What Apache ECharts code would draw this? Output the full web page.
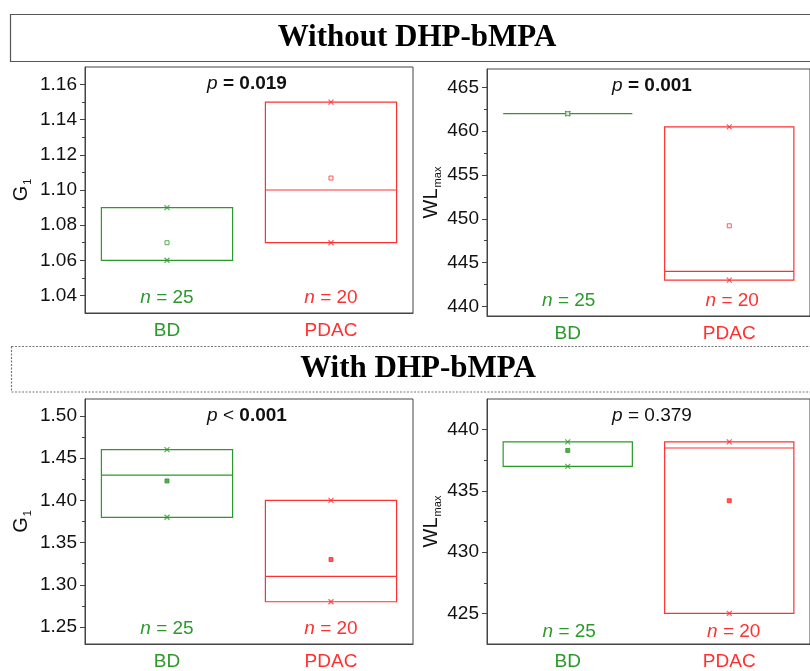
<!DOCTYPE html>
<html>
<head>
<meta charset="utf-8">
<script src="https://cdn.jsdelivr.net/npm/echarts@6/dist/echarts.min.js"></script>
<style>
  html, body { margin: 0; padding: 0; background: #fff; }
  #main { width: 810px; height: 671px; }
</style>
</head>
<body>
<div id="main"></div>
<script>
// groups and their colours
const groups = ['BD', 'PDAC']
const groupColors = ['#2b9a2b', '#ff3030']

// box rows: [min, Q1, median, Q3, max] (no whiskers in the figure, so min=Q1 and max=Q3)
const g1Without = [[1.06, 1.06, 1.06, 1.09, 1.09], [1.07, 1.07, 1.10, 1.15, 1.15]]
const g1WithoutMean = [1.07, 1.1068]
const wlWithout = [[462, 462, 462, 462, 462], [443, 443, 444, 460.5, 460.5]]
const wlWithoutMean = [462, 449.2]
const g1With = [[1.38, 1.38, 1.43, 1.46, 1.46], [1.28, 1.28, 1.31, 1.40, 1.40]]
const g1WithMean = [1.423, 1.33]
const wlWith = [[437, 437, 439, 439, 439], [425, 425, 438.5, 439, 439]]
const wlWithMean = [438.3, 434.2]

// tick labels
const g1WithoutTicks = [1.04, 1.06, 1.08, 1.10, 1.12, 1.14, 1.16]
const wlWithoutTicks = [440, 445, 450, 455, 460, 465]
const g1WithTicks = [1.25, 1.30, 1.35, 1.40, 1.45, 1.50]
const wlWithTicks = [425, 430, 435, 440]

const pLabels = [
  { op: '=', val: '0.019', bold: true },
  { op: '=', val: '0.001', bold: true },
  { op: '<', val: '0.001', bold: true },
  { op: '=', val: '0.379', bold: false }
]
const nLabels = ['25', '20']

const font = 'Liberation Sans, Arial, sans-serif'
const axisColor = '#444'
const textColor = '#111'

// panel geometry
const panels = [
  { left: 85, top: 67, width: 328, height: 246, min: 1.03, max: 1.17, ticks: g1WithoutTicks, dec: 2, name: 'G', sub: '1', gap: 52, box: g1Without, mean: g1WithoutMean, hollow: true },
  { left: 487, top: 69, width: 327, height: 247, min: 438.9, max: 467.1, ticks: wlWithoutTicks, dec: 0, name: 'WL', sub: 'max', gap: 42, box: wlWithout, mean: wlWithoutMean, hollow: true },
  { left: 85, top: 399, width: 328, height: 245, min: 1.23, max: 1.52, ticks: g1WithTicks, dec: 2, name: 'G', sub: '1', gap: 52, box: g1With, mean: g1WithMean, hollow: false },
  { left: 487, top: 399, width: 329, height: 248, min: 422.5, max: 442.5, ticks: wlWithTicks, dec: 0, name: 'WL', sub: 'max', gap: 42, box: wlWith, mean: wlWithMean, hollow: false }
]

function minorTicks(ticks, min, max) {
  const step = ticks[1] - ticks[0]
  const out = []
  for (let i = -1; i < ticks.length; i++) {
    const v = ticks[0] + step * (i + 0.5)
    if (v > min && v < max) out.push(v)
  }
  return out
}

const grid = [], xAxis = [], yAxis = [], series = [], graphic = []

panels.forEach((p, k) => {
  grid.push({ left: p.left, top: p.top, width: p.width, height: p.height, show: true, borderColor: axisColor, borderWidth: 1, containLabel: false })
  xAxis.push({
    type: 'category', gridIndex: k, data: groups, boundaryGap: true,
    axisLine: { lineStyle: { color: axisColor, width: 1 } },
    axisTick: { alignWithLabel: true, length: 5, lineStyle: { color: axisColor } },
    axisLabel: {
      margin: 8,
      formatter: v => '{' + (v === groups[0] ? 'g' : 'r') + '|' + v + '}',
      rich: {
        g: { color: groupColors[0], fontSize: 19, fontFamily: font },
        r: { color: groupColors[1], fontSize: 19, fontFamily: font }
      }
    },
    splitLine: { show: false }
  })
  yAxis.push({
    type: 'value', gridIndex: k, position: 'left', min: p.min, max: p.max,
    name: '{a|' + p.name + '}{s|' + p.sub + '}',
    nameLocation: 'middle', nameGap: p.gap, nameRotate: 90,
    nameTextStyle: {
      rich: {
        a: { fontSize: 20, fontFamily: font, color: textColor, lineHeight: 24, verticalAlign: 'middle' },
        s: { fontSize: 11, fontFamily: font, color: textColor, lineHeight: 24, verticalAlign: 'bottom', padding: [0, 0, 0, 1] }
      }
    },
    axisLine: { show: true, lineStyle: { color: axisColor, width: 1 } },
    axisTick: { show: true, length: 5, customValues: p.ticks, lineStyle: { color: axisColor } },
    axisLabel: { customValues: p.ticks, margin: 8, fontSize: 19, fontFamily: font, color: textColor, formatter: v => v.toFixed(p.dec) },
    splitLine: { show: false }
  })
  // minor ticks
  yAxis.push({
    type: 'value', gridIndex: k, position: 'left', min: p.min, max: p.max,
    axisLine: { show: false },
    axisTick: { show: true, length: 3, customValues: minorTicks(p.ticks, p.min, p.max), lineStyle: { color: axisColor } },
    axisLabel: { show: false },
    splitLine: { show: false }
  })

  series.push({
    type: 'boxplot', xAxisIndex: k, yAxisIndex: 2 * k,
    boxWidth: ['80%', '80%'],
    data: p.box.map((b, i) => ({ value: b, itemStyle: { color: 'transparent', borderColor: groupColors[i], borderWidth: 1.2 } })),
    silent: true
  })
  series.push({
    type: 'scatter', xAxisIndex: k, yAxisIndex: 2 * k,
    symbol: 'path://M0,0L10,10M10,0L0,10', symbolSize: 5,
    data: p.box.flatMap((b, i) => [
      { value: [i, b[0]], itemStyle: { color: 'none', borderColor: groupColors[i], borderWidth: 1.2 } },
      { value: [i, b[4]], itemStyle: { color: 'none', borderColor: groupColors[i], borderWidth: 1.2 } }
    ]),
    silent: true
  })
  series.push({
    type: 'scatter', xAxisIndex: k, yAxisIndex: 2 * k,
    symbol: 'rect', symbolSize: 4,
    data: p.mean.map((m, i) => ({ value: [i, m], itemStyle: { color: p.hollow ? '#fff' : groupColors[i], borderColor: groupColors[i], borderWidth: 1 } })),
    silent: true,
    z: 3
  })

  // p-value text
  const pl = pLabels[k]
  graphic.push({
    type: 'text',
    x: p.left + (k % 2 === 0 ? 162 : 165), y: p.top + 17,
    style: {
      text: '{i|p}{o| ' + pl.op + ' }{v|' + pl.val + '}',
      align: 'center', verticalAlign: 'middle',
      rich: {
        i: { fontStyle: 'italic', fontSize: 19, fontFamily: font, fill: textColor },
        o: { fontSize: 19, fontFamily: font, fill: textColor, fontWeight: pl.bold && pl.op === '=' ? 'bold' : 'normal' },
        v: { fontSize: 19, fontFamily: font, fill: textColor, fontWeight: pl.bold ? 'bold' : 'normal' }
      }
    }
  })
  // n labels
  const band = p.width / groups.length
  nLabels.forEach((n, i) => {
    graphic.push({
      type: 'text',
      x: p.left + band * (i + 0.5), y: p.top + p.height - 15,
      style: {
        text: '{i|n}{t| = ' + n + '}',
        align: 'center', verticalAlign: 'middle',
        rich: {
          i: { fontStyle: 'italic', fontSize: 19, fontFamily: font, fill: groupColors[i] },
          t: { fontSize: 19, fontFamily: font, fill: groupColors[i] }
        }
      }
    })
  })
})

// section headers
graphic.push({
  type: 'rect', shape: { x: 10.5, y: 14.5, width: 820, height: 47 },
  style: { fill: 'none', stroke: '#555', lineWidth: 1.2 }
})
graphic.push({
  type: 'text', x: 417, y: 38,
  style: { text: 'Without DHP-bMPA', align: 'center', verticalAlign: 'middle', font: 'bold 31px "Liberation Serif", "Times New Roman", serif', fill: '#000' }
})
graphic.push({
  type: 'rect', shape: { x: 11.5, y: 346.5, width: 820, height: 45.5 },
  style: { fill: 'none', stroke: '#777', lineWidth: 1.2, lineDash: [2, 1.5] }
})
graphic.push({
  type: 'text', x: 418, y: 369,
  style: { text: 'With DHP-bMPA', align: 'center', verticalAlign: 'middle', font: 'bold 31px "Liberation Serif", "Times New Roman", serif', fill: '#000' }
})

const chart = echarts.init(document.getElementById('main'), null, { renderer: 'canvas' })
chart.setOption({
  backgroundColor: '#fff',
  animation: false,
  grid: grid,
  xAxis: xAxis,
  yAxis: yAxis,
  series: series,
  graphic: graphic
})
</script>
</body>
</html>
